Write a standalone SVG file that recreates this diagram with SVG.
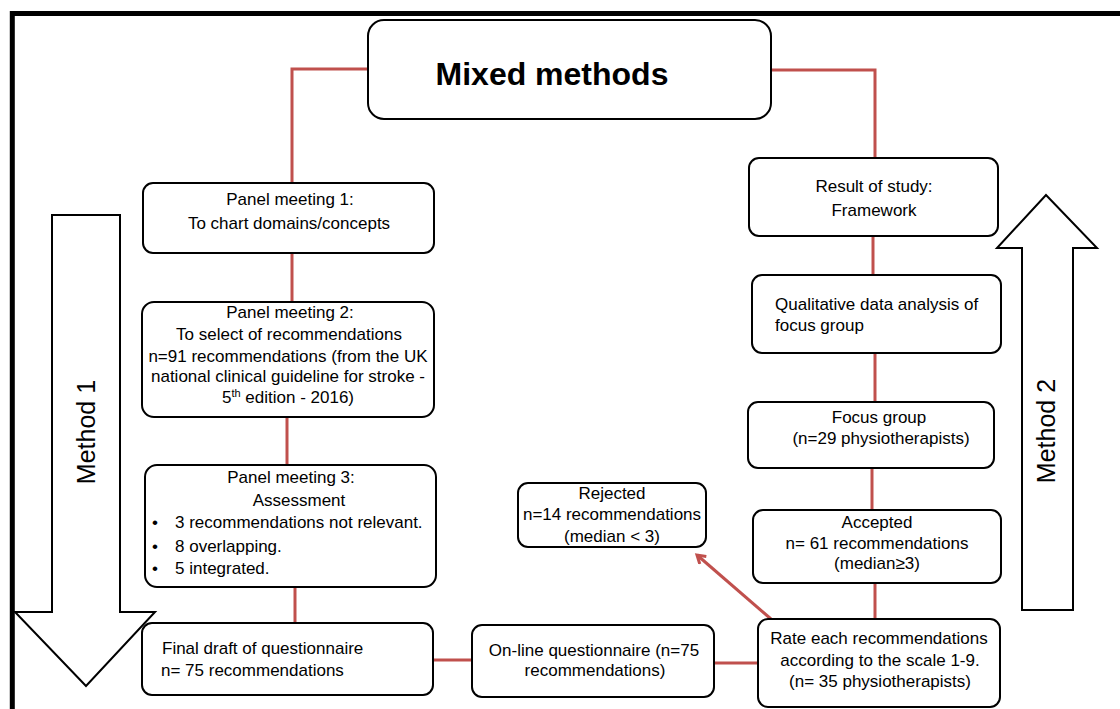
<svg xmlns="http://www.w3.org/2000/svg" width="1120" height="709" viewBox="0 0 1120 709">
<style>
.box{fill:#fff;stroke:#000;stroke-width:2}
.t{font-family:"Liberation Sans",Arial,sans-serif;font-size:17px;fill:#000}
.c{text-anchor:middle}
.conn{fill:none;stroke:#c0504d;stroke-width:3}
.arr{fill:#fff;stroke:#000;stroke-width:2}
</style>
<defs>
<marker id="ah" markerWidth="12" markerHeight="12" refX="9" refY="6" orient="auto" markerUnits="userSpaceOnUse">
<path d="M1,1 L9,6 L1,11" fill="none" stroke="#c0504d" stroke-width="3"/>
</marker>
</defs>
<rect width="1120" height="709" fill="#fff"/>
<path d="M12.3,709 V13.5 H1120" fill="none" stroke="#000" stroke-width="5"/>

<g id="connectors">
<polyline class="conn" points="368,69 292,69 292,183"/>
<polyline class="conn" points="771,70 875,70 875,158"/>
<line class="conn" x1="292" y1="253" x2="292" y2="302"/>
<line class="conn" x1="287" y1="417" x2="287" y2="465"/>
<line class="conn" x1="295" y1="587" x2="295" y2="623"/>
<line class="conn" x1="433" y1="660" x2="472" y2="660"/>
<line class="conn" x1="714" y1="663" x2="758" y2="663"/>
<line class="conn" x1="873" y1="236" x2="873" y2="275"/>
<line class="conn" x1="875" y1="353" x2="875" y2="402"/>
<line class="conn" x1="872" y1="468" x2="872" y2="510"/>
<line class="conn" x1="875" y1="583" x2="875" y2="619"/>
<line class="conn" x1="771" y1="619" x2="697" y2="555" marker-end="url(#ah)"/>
</g>

<g id="method1">
<path class="arr" d="M52,215 H120 V612 H155 L86,686 L15,612 H52 Z"/>
<text class="t c" transform="translate(95,432) rotate(-90)" style="font-size:25px">Method 1</text>
</g>
<g id="method2">
<path class="arr" d="M1022,610 V248 H997 L1046,195 L1097,248 H1073 V610 Z"/>
<text class="t c" transform="translate(1055,431) rotate(-90)" style="font-size:25px">Method 2</text>
</g>

<g id="mixed">
<rect class="box" x="368" y="20" width="403" height="99" rx="16"/>
<text class="t c" x="552" y="85" style="font-size:32px;font-weight:bold">Mixed methods</text>
</g>

<g id="panel1">
<rect class="box" x="143" y="183" width="291" height="70" rx="10"/>
<text class="t c" x="290" y="205">Panel meeting 1:</text>
<text class="t c" x="289" y="229">To chart domains/concepts</text>
</g>

<g id="panel2">
<rect class="box" x="142" y="302" width="292" height="115" rx="12"/>
<text class="t c" x="290" y="318">Panel meeting 2:</text>
<text class="t c" x="289" y="340">To select of recommendations</text>
<text class="t c" x="288" y="362">n=91 recommendations (from the UK</text>
<text class="t c" x="288" y="382">national clinical guideline for stroke -</text>
<text class="t c" x="288" y="403">5<tspan dy="-6" style="font-size:11px">th</tspan><tspan dy="6"> edition - 2016)</tspan></text>
</g>

<g id="panel3">
<rect class="box" x="145" y="465" width="291" height="122" rx="12"/>
<text class="t c" x="291" y="483">Panel meeting 3:</text>
<text class="t c" x="299" y="506">Assessment</text>
<text class="t" x="152" y="528">•</text><text class="t" x="175" y="528">3 recommendations not relevant.</text>
<text class="t" x="152" y="552">•</text><text class="t" x="175" y="552">8 overlapping.</text>
<text class="t" x="152" y="574">•</text><text class="t" x="175" y="574">5 integrated.</text>
</g>

<g id="final">
<rect class="box" x="142" y="623" width="291" height="72" rx="10"/>
<text class="t" x="162" y="654">Final draft of questionnaire</text>
<text class="t" x="161" y="676">n= 75 recommendations</text>
</g>

<g id="online">
<rect class="box" x="472" y="625" width="242" height="72" rx="10"/>
<text class="t c" x="594" y="656">On-line questionnaire (n=75</text>
<text class="t c" x="595" y="676">recommendations)</text>
</g>

<g id="rate">
<rect class="box" x="758" y="619" width="242" height="88" rx="10"/>
<text class="t c" x="879" y="644">Rate each recommendations</text>
<text class="t c" x="880" y="666">according to the scale 1-9.</text>
<text class="t c" x="880" y="687">(n= 35 physiotherapists)</text>
</g>

<g id="rejected">
<rect class="box" x="518" y="483" width="188" height="64" rx="10"/>
<text class="t c" x="612" y="499">Rejected</text>
<text class="t c" x="612" y="520">n=14 recommendations</text>
<text class="t c" x="612" y="542">(median &lt; 3)</text>
</g>

<g id="accepted">
<rect class="box" x="753" y="510" width="248" height="73" rx="10"/>
<text class="t c" x="877" y="528">Accepted</text>
<text class="t c" x="877" y="549">n= 61 recommendations</text>
<text class="t c" x="877" y="569">(median≥3)</text>
</g>

<g id="focus">
<rect class="box" x="748" y="402" width="246" height="66" rx="10"/>
<text class="t c" x="879" y="423">Focus group</text>
<text class="t c" x="881" y="444">(n=29 physiotherapists)</text>
</g>

<g id="qual">
<rect class="box" x="752" y="275" width="249" height="78" rx="10"/>
<text class="t" x="775" y="310">Qualitative data analysis of</text>
<text class="t" x="775" y="331">focus group</text>
</g>

<g id="result">
<rect class="box" x="749" y="158" width="249" height="78" rx="10"/>
<text class="t c" x="874" y="192">Result of study:</text>
<text class="t c" x="874" y="216">Framework</text>
</g>
</svg>
